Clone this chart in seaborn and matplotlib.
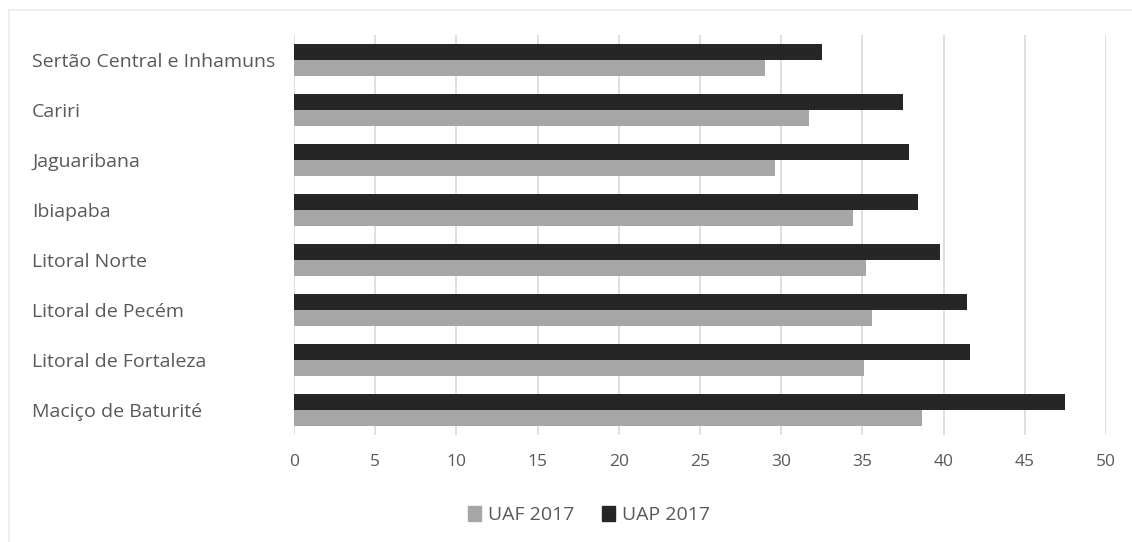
import matplotlib
matplotlib.use("Agg")
import matplotlib.pyplot as plt
import pandas as pd
import seaborn as sns
from matplotlib.lines import Line2D
from matplotlib.patches import Patch

## Data ##
regions = ["Sertão Central e Inhamuns", "Cariri", "Jaguaribana", "Ibiapaba",
           "Litoral Norte", "Litoral de Pecém", "Litoral de Fortaleza", "Maciço de Baturité"]
uap_2017 = [32.5, 37.5, 37.9, 38.4, 39.75, 41.45, 41.6, 47.5]
uaf_2017 = [29.0, 31.7, 29.6, 34.4, 35.2, 35.6, 35.1, 38.7]
x_ticks = [0, 5, 10, 15, 20, 25, 30, 35, 40, 45, 50]

df = pd.DataFrame({"region": regions * 2,
                   "value": uap_2017 + uaf_2017,
                   "serie": ["UAP 2017"] * len(regions) + ["UAF 2017"] * len(regions)})

sns.set_style("white")
plt.rcParams["font.family"] = ["Open Sans", "DejaVu Sans"]

colors = {"UAP 2017": "#262626", "UAF 2017": "#a6a6a6"}
text_color = "#595959"

fig = plt.figure(figsize=(11.32, 5.42), dpi=100)
ax = fig.add_axes([294 / 1132, 1 - 435 / 542, 812 / 1132, 400 / 542])

sns.barplot(data=df, x="value", y="region", hue="serie", hue_order=["UAP 2017", "UAF 2017"],
            palette=colors, orient="h", width=0.64, gap=0, linewidth=0, ax=ax, legend=False)

ax.set_xlim(0, 50)
ax.set_ylim(7.5, -0.5)
ax.set_xticks(x_ticks)
ax.xaxis.grid(True, color="#d9d9d9", linewidth=1.2)
ax.set_axisbelow(True)
for s in ax.spines.values():
    s.set_visible(False)
ax.set_xlabel("")
ax.set_ylabel("")
ax.tick_params(axis="x", length=0, labelsize=12.5, labelcolor=text_color, pad=14)
## left-align the region names at the chart's left margin ##
ax.tick_params(axis="y", length=0, labelsize=14, labelcolor=text_color, pad=(294 - 32) * 0.72)
for lbl in ax.get_yticklabels():
    lbl.set_horizontalalignment("left")

## Legend ##
handles = [Patch(color=colors["UAF 2017"], label="UAF 2017"),
           Patch(color=colors["UAP 2017"], label="UAP 2017")]
fig.legend(handles=handles, loc="center", bbox_to_anchor=(589 / 1132, 1 - 515 / 542), ncol=2,
           frameon=False, fontsize=14, labelcolor=text_color, handlelength=0.7, handleheight=0.8,
           handletextpad=0.35, columnspacing=1.4)

## Faint outer frame ##
fig.add_artist(Line2D([9 / 1132, 1], [1 - 10 / 542, 1 - 10 / 542], color="#ececec", linewidth=1.2))
fig.add_artist(Line2D([9 / 1132, 9 / 1132], [0, 1 - 10 / 542], color="#ececec", linewidth=1.2))

fig.savefig("out.png", dpi=100, facecolor="white")
